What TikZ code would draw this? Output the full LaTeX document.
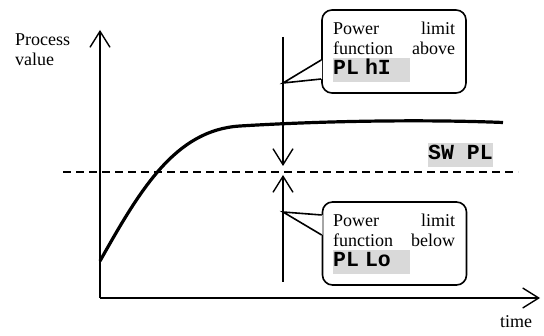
\documentclass[tikz,border=0pt]{standalone}
\usepackage{fontspec}
\setmainfont{Liberation Serif}
\setmonofont{Liberation Mono}
\usetikzlibrary{arrows.meta,positioning}

\definecolor{codegrey}{RGB}{217,217,217}
\newcommand{\labelfont}{\fontsize{18}{20}\selectfont}
\newcommand{\parcode}[2]{{\setlength{\fboxsep}{0pt}\colorbox{codegrey}{\rule[-7pt]{0pt}{24pt}\makebox[#1][l]{\fontsize{21.5}{24}\selectfont\ttfamily\bfseries #2}}}}

\tikzset{
  axisarrow/.style={line width=1.4pt, -{Straight Barb[length=16pt,width=20pt,line width=1.4pt]}},
  callbox/.style={draw, line width=1.6pt, rounded corners=10pt, minimum width=144pt, minimum height=83pt},
  calltext/.style={inner sep=0pt, text width=122pt, align=left, anchor=base west, font=\labelfont},
  axistext/.style={inner sep=0pt, align=left, font=\labelfont}
}

\begin{document}
\begin{tikzpicture}[x=1pt,y=-1pt]
            \useasboundingbox (0,0) rectangle (544,336);

            % axes
            \coordinate (origin) at (100,298);
            \coordinate (ytip) at (100,30);
            \coordinate (xtip) at (540,298);
            \draw[axisarrow] (origin)--(ytip);
            \draw[axisarrow] (origin)--(xtip);
            \node[axistext, anchor=north west] (pvlabel) at (15,34) {Process\\value};
            \node[axistext, anchor=base west] (timelabel) at (500,328) {time};

            % set point
            \coordinate (swleft) at (63,172);
            \coordinate (swright) at (518,172);
            \draw[line width=1.1pt, dash pattern=on 8pt off 5pt] (swleft)--(swright);
            \node[inner sep=0pt, anchor=base west] (swlabel) at (428,160) {\parcode{64.5pt}{SW PL}};

            % process value
            \draw[line width=3.2pt] (100,261) .. controls (140,190) and (175,130) .. (240,126)
                .. controls (330,120.5) and (430,119.5) .. (503,122.5);

            % power limits
            \coordinate (pltop) at (283,37);
            \coordinate (plhi) at (283,166);
            \coordinate (pllo) at (283,175);
            \coordinate (plbot) at (283,282);
            \draw[axisarrow] (pltop)--(plhi);
            \draw[axisarrow] (plbot)--(pllo);

            % callout above
            \node[callbox] (hibox) at (394,51.5) {};
            \coordinate (hitip) at (283,83);
            \coordinate (hiA) at (hibox.west |- 0,60);
            \coordinate (hiB) at (hibox.west |- 0,79);
            \fill[white] ([xshift=1pt]hiA)--(hitip)--([xshift=1pt]hiB)--cycle;
            \draw[line width=1.6pt, line join=miter] (hiA)--(hitip)--(hiB);
            \node[calltext] (hitext) at (333,35) {\labelfont Power\hfill limit\\function\hfill above\\\parcode{77pt}{PL hI}};

            % callout below
            \node[callbox] (lobox) at (394.5,243.5) {};
            \coordinate (lotip) at (283,212);
            \coordinate (loA) at (lobox.west |- 0,215);
            \coordinate (loB) at (lobox.west |- 0,235);
            \fill[white] ([xshift=1pt]loA)--(lotip)--([xshift=1pt]loB)--cycle;
            \draw[line width=1.6pt, line join=miter] (loA)--(lotip)--(loB);
            \node[calltext] (lotext) at (333,227) {\labelfont Power\hfill limit\\function\hfill below\\\parcode{77pt}{PL Lo}};
        \end{tikzpicture}
\end{document}
